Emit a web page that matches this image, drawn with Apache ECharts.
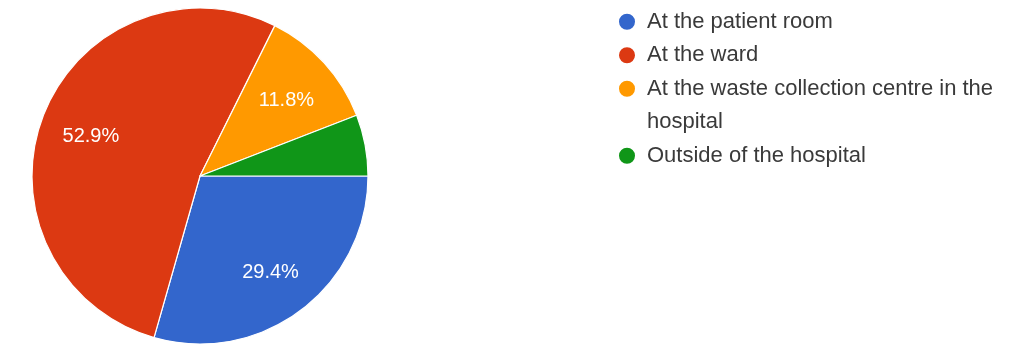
<!DOCTYPE html>
<html>
<head>
<meta charset="utf-8">
<style>
  html, body { margin: 0; padding: 0; background: #ffffff; }
  #chart { width: 1034px; height: 346px; }
</style>
<script src="https://cdn.jsdelivr.net/npm/echarts@6/dist/echarts.min.js"></script>
</head>
<body>
<div id="chart"></div>
<script>
// Where the waste is handled – share of responses
const categories = [
  'At the patient room',
  'At the ward',
  'At the waste collection centre in the hospital',
  'Outside of the hospital'
];
const counts = [5, 9, 2, 1];
const colors = ['#3366cc', '#dc3912', '#ff9900', '#109618'];
// Slices below this share carry no percentage label
const minLabelShare = 0.1;

const total = counts.reduce((a, b) => a + b, 0);
const fmtPct = v => (v / total * 100).toFixed(1) + '%';

const LEGEND_LINE = 33.5;
const LEGEND_TOP = 0;
const FONT = 'Liberation Sans, Arial, sans-serif';

const sliceData = categories.map((name, i) => ({
  name, value: counts[i], itemStyle: { color: colors[i] }
}));
const labelData = categories.map((name, i) => ({
  name, value: counts[i],
  label: { show: counts[i] / total >= minLabelShare }
}));

const legendBase = {
  orient: 'vertical',
  left: 612,
  icon: 'circle',
  itemWidth: 30,
  itemHeight: 18,
  itemGap: 0,
  selectedMode: false,
  textStyle: {
    fontFamily: FONT,
    fontSize: 22,
    color: '#3a3a3a',
    lineHeight: LEGEND_LINE,
    width: 362,
    overflow: 'break'
  }
};

const chart = echarts.init(document.getElementById('chart'), null, { renderer: 'canvas' });
chart.setOption({
  animation: false,
  backgroundColor: '#ffffff',
  legend: [
    Object.assign({}, legendBase, {
      top: LEGEND_TOP,
      data: categories.slice(0, 2)
    }),
    // second block: a blank leading line keeps the marker beside the
    // first line of the wrapped entry
    Object.assign({}, legendBase, {
      top: LEGEND_TOP + LEGEND_LINE,
      data: categories.slice(2),
      formatter: name => (name === categories[2] ? '\n' + name : name)
    })
  ],
  series: [
    {
      type: 'pie',
      center: [200, 176],
      radius: [0, 168],
      startAngle: 0,
      clockwise: true,
      silent: true,
      label: { show: false },
      labelLine: { show: false },
      itemStyle: { borderColor: '#ffffff', borderWidth: 1.2 },
      data: sliceData
    },
    {
      // transparent ring used only to place the percentage labels further out
      type: 'pie',
      center: [200, 176],
      radius: [60, 168],
      startAngle: 0,
      clockwise: true,
      silent: true,
      legendHoverLink: false,
      itemStyle: { color: 'rgba(0,0,0,0)' },
      label: {
        position: 'inside',
        formatter: p => fmtPct(p.value),
        color: '#ffffff',
        fontFamily: FONT,
        fontSize: 20
      },
      labelLayout: { dy: 3 },
      labelLine: { show: false },
      data: labelData
    }
  ]
});
</script>
</body>
</html>
